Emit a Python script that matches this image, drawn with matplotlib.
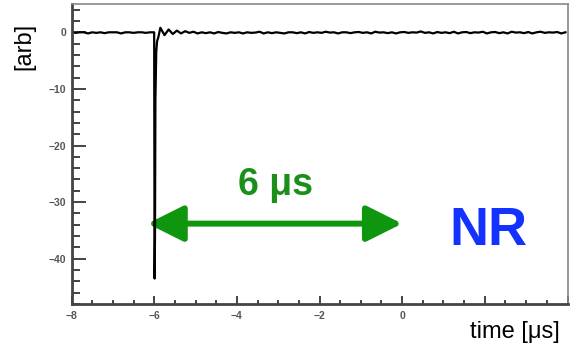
import matplotlib.pyplot as plt
import numpy as np
from matplotlib.patches import FancyArrowPatch
from matplotlib.ticker import MultipleLocator

plt.rcParams['font.family'] = ['Liberation Sans', 'DejaVu Sans']

# waveform samples [us], [arb]
t_pre = np.round(np.arange(-8.0, -6.0, 0.1), 2)
v_pre = [0.0, -0.1, 0.0, 0.0, -0.2, 0.0, -0.1, 0.0, -0.15, 0.0,
         0.0, 0.0, -0.2, 0.0, 0.0, -0.1, 0.0, 0.0, -0.1, 0.0]

t_spike = [-6.0, -5.99, -5.98, -5.97, -5.95, -5.93, -5.9]
v_spike = [0.0, -43.5, -36.0, -12.0, -3.5, -1.6, -0.9]

t_post = np.round(np.arange(-5.85, 4.0, 0.1), 2)
v_post = [0.8, -0.5, 0.5, -0.3, 0.3, -0.2, 0.2, -0.1, 0.1, -0.2,
          0.0, -0.15, 0.0, -0.2, 0.05, -0.1, -0.2, 0.0, -0.1, 0.0,
          -0.2, 0.0, -0.1, -0.05, 0.1, -0.2, 0.0, -0.15, 0.0, -0.1,
          -0.2, 0.0, 0.0, -0.15, 0.0, -0.2, 0.05, -0.1, 0.0, -0.1,
          0.1, -0.05, 0.0, -0.2, 0.0, 0.0, -0.15, 0.0, 0.05, -0.1,
          0.0, -0.2, 0.1, -0.05, 0.0, -0.15, 0.0, -0.2, 0.0, 0.05,
          -0.1, 0.0, -0.05, 0.15, -0.1, 0.0, -0.2, 0.05, -0.1, 0.0,
          -0.15, 0.1, -0.2, 0.0, 0.05, -0.15, 0.0, -0.05, 0.1, -0.2,
          0.0, 0.05, -0.15, 0.0, -0.2, 0.1, -0.05, 0.0, -0.15, 0.05,
          -0.2, 0.0, 0.1, -0.1, 0.0, -0.05, 0.05, -0.2, 0.0]

t = np.concatenate([t_pre, t_spike, t_post])
v = np.concatenate([v_pre, v_spike, v_post])

x_major = [-8, -6, -4, -2, 0, 2, 4]
x_labels = ['\u22128', '\u22126', '\u22124', '\u22122', '0', '', '']
y_major = [0, -10, -20, -30, -40]
y_labels = ['0', '\u221210', '\u221220', '\u221230', '\u221240']

arrow_from, arrow_to, arrow_y = -6.16, 0.0, -33.8

fig = plt.figure(figsize=(5.7, 3.48), dpi=100)
ax = fig.add_axes([71.5 / 570, 1 - 304 / 348, (567.5 - 71.5) / 570, (304 - 4) / 348])

ax.plot(t, v, color='black', lw=1.6)

ax.set_xlim(-8, 4)
ax.set_ylim(-48, 5)
ax.set_xticks(x_major, x_labels)
ax.set_yticks(y_major, y_labels)
ax.xaxis.set_minor_locator(MultipleLocator(0.5))
ax.yaxis.set_minor_locator(MultipleLocator(2))

ax.tick_params(which='both', direction='in', top=False, right=False,
               color='#444444', width=1.4, labelcolor='#555555', labelsize=7.5)
ax.tick_params(axis='y', which='major', length=10, pad=4)
ax.tick_params(axis='y', which='minor', length=5.5)
ax.tick_params(axis='x', which='major', length=6, pad=5)
ax.tick_params(axis='x', which='minor', length=3)
for lab in ax.get_xticklabels() + ax.get_yticklabels():
    lab.set_fontweight('bold')

for side in ['left', 'bottom']:
    ax.spines[side].set_linewidth(2)
    ax.spines[side].set_color('#444444')
for side in ['top', 'right']:
    ax.spines[side].set_linewidth(1.2)
    ax.spines[side].set_color('#888888')

arrow = FancyArrowPatch((arrow_from, arrow_y), (arrow_to, arrow_y),
                        arrowstyle='<|-|>,head_length=22,head_width=11',
                        mutation_scale=1, color='#0f960f', lw=4.3,
                        shrinkA=0, shrinkB=0)
ax.add_patch(arrow)

ax.text(-3.07, -28.7, '6 μs', color='#1a8f1a', fontsize=27, fontweight='bold',
        ha='center', va='baseline')
ax.text(2.09, -37.5, 'NR', color='#1432ff', fontsize=39, fontweight='bold',
        ha='center', va='baseline')

fig.text(560 / 570, 1 - 338 / 348, 'time [μs]', fontsize=17, ha='right', va='baseline')
fig.text(24 / 570, 1 - 46 / 348, '[arb]', fontsize=17, rotation=90, ha='center', va='center')

fig.savefig('out.png', dpi=100)
